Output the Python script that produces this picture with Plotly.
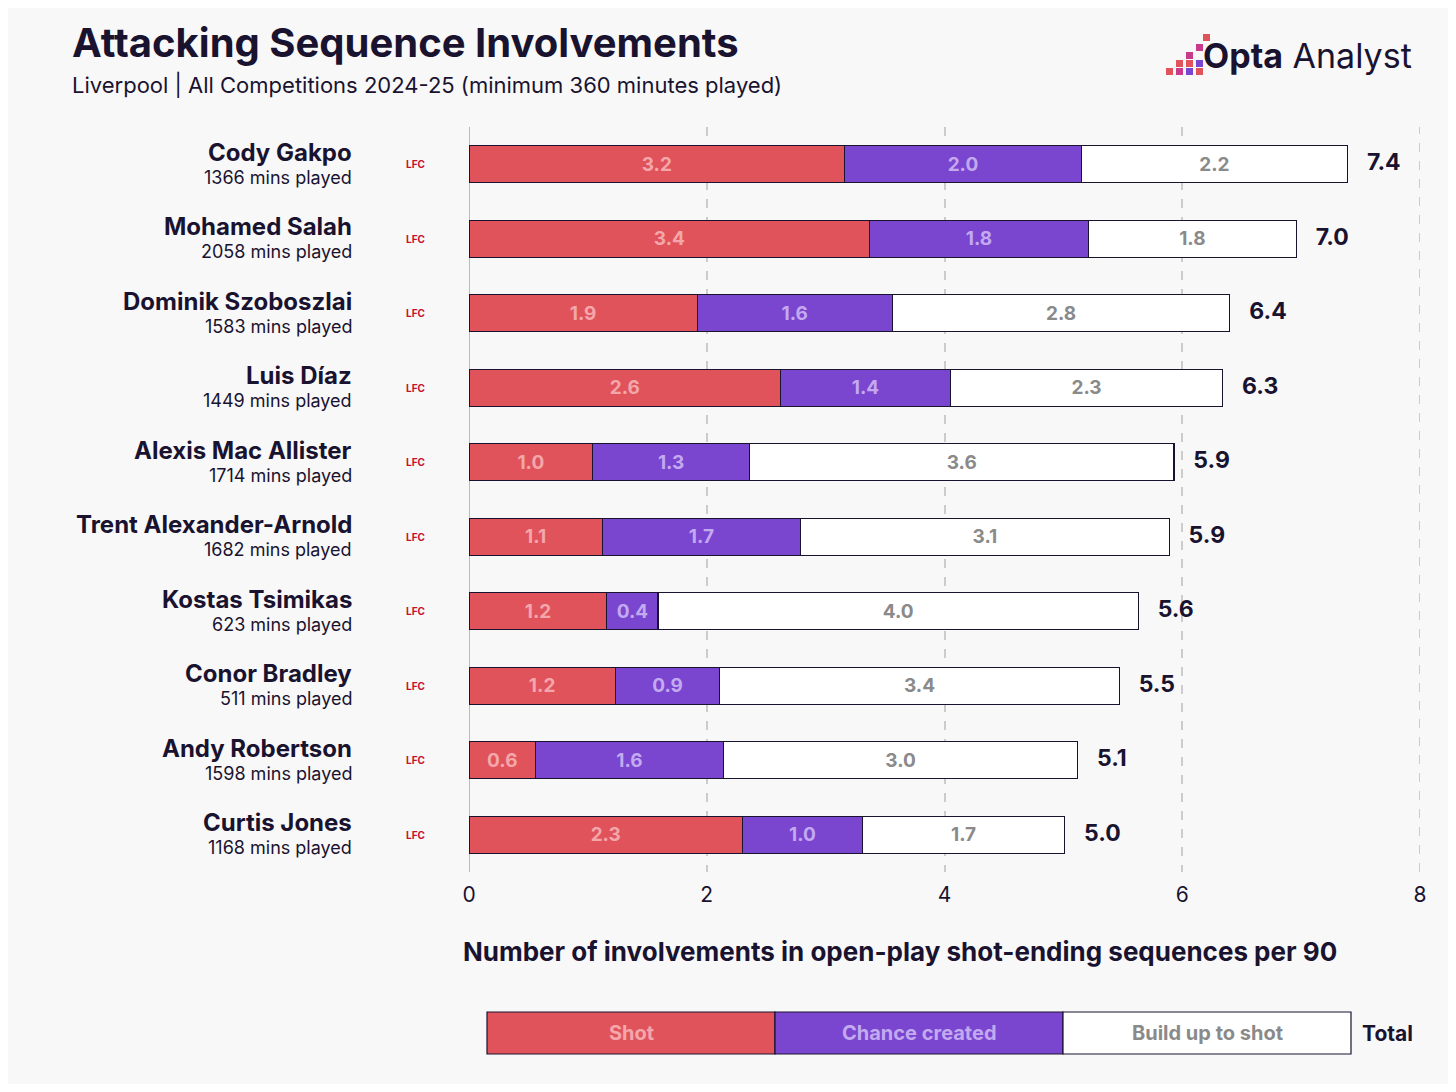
import plotly.graph_objects as go

players = ["Cody Gakpo", "Mohamed Salah", "Dominik Szoboszlai", "Luis Díaz", "Alexis Mac Allister",
           "Trent Alexander-Arnold", "Kostas Tsimikas", "Conor Bradley", "Andy Robertson", "Curtis Jones"]
minutes = [1366, 2058, 1583, 1449, 1714, 1682, 623, 511, 1598, 1168]
shot = [3.16, 3.37, 1.92, 2.62, 1.04, 1.12, 1.16, 1.23, 0.56, 2.30]
chance = [1.99, 1.84, 1.64, 1.43, 1.32, 1.67, 0.43, 0.88, 1.58, 1.01]
build = [2.24, 1.75, 2.84, 2.29, 3.57, 3.10, 4.04, 3.36, 2.98, 1.70]
totals = [s + c + b for s, c, b in zip(shot, chance, build)]
ypos = list(range(len(players)))

FONT = "Inter"
DARK = "#1a1330"
OFF = 8  # page body margin
W, H = 1440, 1076
L, T = 469 - OFF, 127 - OFF
R = W - (1420 - OFF)
B = H - (872 - OFF)
PW, PH = W - L - R, H - T - B


def px(x):  # x measured on the screenshot
    return (x - OFF - L) / PW


def py(y):  # y measured from top of the screenshot
    return (H - B - (y - OFF)) / PH


fig = go.Figure()
series = [("Shot", shot, "#e0535b", "#f3a7ab"),
          ("Chance created", chance, "#7a45cf", "#c3aaf0"),
          ("Build up to shot", build, "#ffffff", "#8a8a8a")]
for name, vals, col, tcol in series:
    fig.add_trace(go.Bar(
        y=ypos, x=vals, orientation="h", name=name, width=0.5,
        marker=dict(color=col, line=dict(color=DARK, width=1.2)),
        text=[f"<b>{v:.1f}</b>" for v in vals], textposition="inside", insidetextanchor="middle",
        textfont=dict(family=FONT, size=19, color=tcol), showlegend=False, hoverinfo="skip"))

fig.add_trace(go.Scatter(
    y=ypos, x=totals, mode="text", text=[f"   <b>{t:.1f}</b>" for t in totals],
    textposition="middle right", textfont=dict(family=FONT, size=23, color=DARK),
    showlegend=False, hoverinfo="skip"))

ann = []
for i, (p, m) in enumerate(zip(players, minutes)):
    ann.append(dict(x=px(354), xref="paper", y=i, yref="y", yshift=12, text=f"<b>{p}</b>",
                    xanchor="right", yanchor="middle", showarrow=False,
                    font=dict(family=FONT, size=24, color=DARK)))
    ann.append(dict(x=px(354), xref="paper", y=i, yref="y", yshift=-13, text=f"{m} mins played",
                    xanchor="right", yanchor="middle", showarrow=False,
                    font=dict(family=FONT, size=18, color=DARK)))
    ann.append(dict(x=px(415), xref="paper", y=i, yref="y", text="<b>LFC</b>",
                    xanchor="center", yanchor="middle", showarrow=False,
                    font=dict(family=FONT, size=10, color="#c8102e")))

ann += [
    dict(x=px(70), xref="paper", y=py(42), yref="paper", text="<b>Attacking Sequence Involvements</b>",
         showarrow=False, xanchor="left", yanchor="middle", font=dict(family=FONT, size=40, color=DARK)),
    dict(x=px(70), xref="paper", y=py(85), yref="paper",
         text="Liverpool | All Competitions 2024-25 (minimum 360 minutes played)",
         showarrow=False, xanchor="left", yanchor="middle", font=dict(family=FONT, size=22, color=DARK)),
    dict(x=px(1414), xref="paper", y=py(56), yref="paper", text="<b>Opta</b> Analyst",
         showarrow=False, xanchor="right", yanchor="middle", font=dict(family=FONT, size=34, color=DARK)),
    dict(x=px(900), xref="paper", y=py(951), yref="paper",
         text="<b>Number of involvements in open-play shot-ending sequences per 90</b>",
         showarrow=False, xanchor="center", yanchor="middle", font=dict(family=FONT, size=26, color=DARK)),
]

shapes = [dict(type="line", xref="x", yref="paper", x0=8, x1=8, y0=0, y1=1,
               line=dict(color="#cccccc", width=2, dash="dash"))]
leg = [(487, 775, "#e0535b", "Shot", "#f3a7ab"),
       (775, 1063, "#7a45cf", "Chance created", "#c3aaf0"),
       (1063, 1351, "#ffffff", "Build up to shot", "#8a8a8a")]
for x0, x1, col, txt, tcol in leg:
    shapes.append(dict(type="rect", xref="paper", yref="paper", x0=px(x0), x1=px(x1), layer="below",
                       y0=py(1054), y1=py(1012), fillcolor=col, line=dict(color=DARK, width=1.2)))
    ann.append(dict(x=px((x0 + x1) / 2), xref="paper", y=py(1033), yref="paper", text=f"<b>{txt}</b>",
                    xanchor="center", yanchor="middle",
                    showarrow=False, font=dict(family=FONT, size=20, color=tcol)))
ann.append(dict(x=px(1360), xref="paper", y=py(1033), yref="paper", text="<b>Total</b>", xanchor="left",
                yanchor="middle", showarrow=False, font=dict(family=FONT, size=21, color=DARK)))
# Opta logo squares (screenshot pixel positions, from top)
sq = [(1166, 68, "#e0535b"), (1176, 60, "#e0535b"), (1186, 52, "#c93a8a"), (1196, 44, "#c93a8a"),
      (1176, 68, "#c93a8a"), (1186, 60, "#e0535b"), (1196, 60, "#7a45cf"), (1186, 68, "#7a45cf"),
      (1196, 68, "#e0535b"), (1203, 34, "#e0535b")]
for sx, sy, c in sq:
    shapes.append(dict(type="rect", xref="paper", yref="paper", x0=px(sx), x1=px(sx + 7),
                       y0=py(sy + 7), y1=py(sy), fillcolor=c, line=dict(width=0)))

fig.update_layout(
    width=W, height=H, paper_bgcolor="#f8f8f8", plot_bgcolor="#f8f8f8",
    margin=dict(l=L, r=R, t=T, b=B), barmode="stack",
    xaxis=dict(range=[0, 8], tickvals=[0, 2, 4, 6, 8], showgrid=True, gridcolor="#cccccc",
               griddash="dash", gridwidth=2, zeroline=True, zerolinecolor="#bbbbbb", zerolinewidth=1,
               tickfont=dict(family=FONT, size=21, color=DARK), ticks="", ticklabelstandoff=8),
    yaxis=dict(range=[9.5, -0.5], showticklabels=False, showgrid=False, zeroline=False),
    annotations=ann, shapes=shapes, font=dict(family=FONT),
)
fig.write_html("out.html")
